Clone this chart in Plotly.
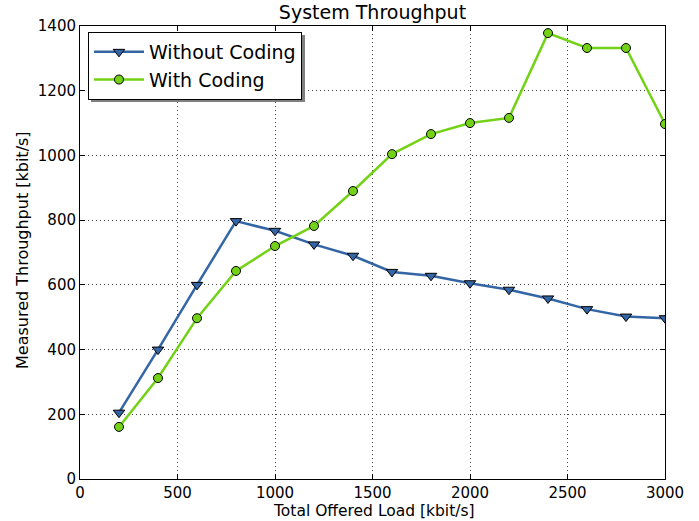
import plotly.graph_objects as go

load = [200, 400, 600, 800, 1000, 1200, 1400, 1600, 1800, 2000, 2200, 2400, 2600, 2800, 3000]
without_coding = [205, 400, 600, 797, 767, 725, 690, 640, 628, 605, 585, 558, 525, 502, 497]
with_coding = [161, 312, 497, 643, 720, 782, 890, 1004, 1066, 1100, 1116, 1378, 1332, 1332, 1097]

x_ticks = [0, 500, 1000, 1500, 2000, 2500, 3000]
y_ticks = [0, 200, 400, 600, 800, 1000, 1200, 1400]

fig = go.Figure()
fig.add_trace(go.Scatter(x=load, y=without_coding, name="Without Coding", mode="lines+markers",
                         line=dict(color="#3465a4", width=2.5),
                         marker=dict(symbol="triangle-down", size=10, color="#3465a4",
                                     line=dict(color="black", width=1))))
fig.add_trace(go.Scatter(x=load, y=with_coding, name="With Coding", mode="lines+markers",
                         line=dict(color="#73d216", width=2.5),
                         marker=dict(symbol="circle", size=9, color="#73d216",
                                     line=dict(color="black", width=1))))

axis_common = dict(showline=True, linecolor="black", linewidth=1, mirror="ticks",
                   ticks="inside", ticklen=5, tickcolor="black",
                   showgrid=True, gridcolor="#444444", griddash="1px,3px", gridwidth=1,
                   zeroline=False, tickfont=dict(size=15, color="black"), automargin=False)

fig.update_xaxes(range=[0, 3000], tickvals=x_ticks, ticklabelstandoff=0, **axis_common)
fig.update_yaxes(range=[0, 1400], tickvals=y_ticks, **axis_common)

W, H, L, R, T, B = 699, 521, 80, 34, 26, 42
PW, PH = W - L - R, H - T - B

def px(xp):
    return (xp - L) / PW

def py(yp):
    return (H - B - yp) / PH

# axis titles
fig.add_annotation(text="Total Offered Load [kbit/s]", xref="paper", yref="paper",
                   x=px(374), y=py(511), xanchor="center", yanchor="middle",
                   showarrow=False, font=dict(size=15.5, color="black"))
fig.add_annotation(text="Measured Throughput [kbit/s]", xref="paper", yref="paper",
                   x=px(22), y=py(250), xanchor="center", yanchor="middle", textangle=-90,
                   showarrow=False, font=dict(size=16, color="black"))

# legend shadow
fig.add_shape(type="rect", xref="paper", yref="paper",
              x0=px(91), x1=px(305), y0=py(102), y1=py(35),
              fillcolor="#808080", line=dict(width=0), layer="above")

fig.update_layout(
    width=W, height=H,
    margin=dict(l=L, r=R, t=T, b=B),
    paper_bgcolor="white", plot_bgcolor="white",
    font=dict(family="DejaVu Sans", color="black"),
    title=dict(text="System Throughput", x=0.5, xanchor="center", xref="paper",
               yref="container", y=1 - 12 / H, yanchor="middle", font=dict(size=19, color="black")),
    legend=dict(x=px(88), y=py(32), xanchor="left", yanchor="top",
                bgcolor="white", bordercolor="black", borderwidth=1,
                font=dict(size=19, color="black"), itemwidth=50,
                tracegroupgap=0),
    showlegend=True,
)

fig.write_html("out.html", config={"displayModeBar": False},
               post_script="document.body.style.margin='0';")
